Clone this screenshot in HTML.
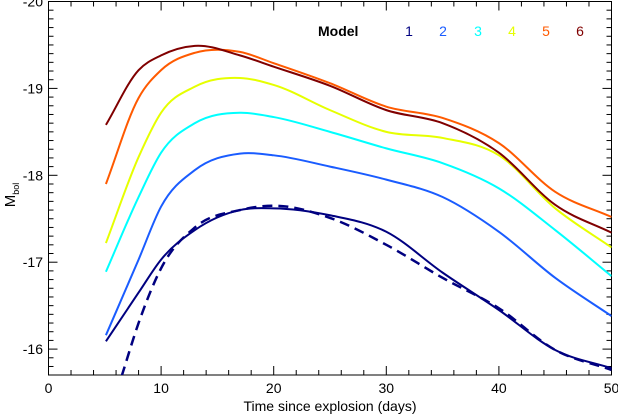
<!DOCTYPE html>
<html><head><meta charset="utf-8"><style>
body{margin:0;background:#fff;}
text{font-family:"Liberation Sans",sans-serif;}
</style></head><body>
<svg id="chart" width="618" height="414" xmlns="http://www.w3.org/2000/svg">
<defs><clipPath id="pc"><rect x="48.5" y="1.5" width="563" height="373.5"/></clipPath></defs>
<g id="axes"></g>
<g id="series" clip-path="url(#pc)"></g>
<text x="330" y="411" font-size="14" text-anchor="middle">Time since explosion (days)</text>
<g transform="translate(15,195) rotate(-90)"><text font-size="15" text-anchor="middle">M<tspan font-size="9" dy="4">bol</tspan></text></g>
<g id="legend">
<text x="318" y="36" font-size="14" font-weight="bold">Model</text>
</g>
</svg>
<script>
const days = [5.1, 8, 10, 13, 17, 20, 25, 30, 35, 40, 45, 50];
const model1 = [-16.09,-16.65,-17.03,-17.37,-17.60,-17.62,-17.54,-17.35,-16.88,-16.45,-15.99,-15.78];
const model2 = [-16.16,-17.03,-17.64,-18.06,-18.25,-18.23,-18.10,-17.95,-17.75,-17.35,-16.82,-16.38];
const model3 = [-16.89,-17.75,-18.26,-18.60,-18.72,-18.67,-18.50,-18.31,-18.14,-17.85,-17.37,-16.84];
const model4 = [-17.22,-18.21,-18.72,-19.02,-19.12,-19.04,-18.75,-18.50,-18.43,-18.23,-17.62,-17.17];
const model5 = [-17.90,-18.89,-19.21,-19.41,-19.42,-19.29,-19.06,-18.79,-18.66,-18.37,-17.81,-17.52];
const model6 = [-18.58,-19.21,-19.38,-19.49,-19.38,-19.25,-19.03,-18.75,-18.60,-18.26,-17.66,-17.34];
const obsDays = [6.5, 8, 10, 13, 17, 20, 25, 30, 35, 40, 45, 50];
const observed = [-15.69,-16.30,-16.93,-17.40,-17.60,-17.65,-17.51,-17.20,-16.82,-16.47,-15.99,-15.76];
const seriesColors = ['#000080','#1a5cff','#00ffff','#e6ff00','#ff5a00','#800000'];
const xTicks = [0,10,20,30,40,50];
const yTicks = [-20,-19,-18,-17,-16];

const NS='http://www.w3.org/2000/svg';
const X0=48.5,X1=611.5,Y0=1.5,Y1=375;
const xs = d => X0 + (d/50)*(X1-X0);
const ys = m => 1.5 + (m+20)*86.9;
function el(tag, attrs, parent){const e=document.createElementNS(NS,tag);for(const k in attrs)e.setAttribute(k,attrs[k]);parent.appendChild(e);return e;}
const axes=document.getElementById('axes');
const frame=el('rect',{x:X0,y:Y0,width:X1-X0,height:Y1-Y0,fill:'none',stroke:'#000','stroke-width':1},axes);


for(let d=0;d<=50;d+=2){const maj=d%10===0;const L=maj?9:5;
 el('line',{x1:xs(d),x2:xs(d),y1:Y1,y2:Y1-L,stroke:'#000'},axes);
 el('line',{x1:xs(d),x2:xs(d),y1:Y0,y2:Y0+L,stroke:'#000'},axes);}
xTicks.forEach(t=>{const tx=el('text',{x:xs(t),y:393,'font-size':14,'text-anchor':'middle'},axes);tx.textContent=t;
 
 });
for(let i=0;i<=43;i++){const m=-20+i*0.1;const y=ys(m);if(y>Y1)break;const maj=i%10===0;const L=maj?9:5;
 el('line',{x1:X0,x2:X0+L,y1:y,y2:y,stroke:'#000'},axes);
 el('line',{x1:X1,x2:X1-L,y1:y,y2:y,stroke:'#000'},axes);}
yTicks.forEach(t=>{const tx=el('text',{x:43,y:ys(t)+5,'font-size':14,'text-anchor':'end'},axes);tx.textContent=t;
 
 });
function smooth(px,py){const n=px.length;const m=[];
 for(let i=0;i<n;i++){
  if(i===0)m.push((py[1]-py[0])/(px[1]-px[0]));
  else if(i===n-1)m.push((py[n-1]-py[n-2])/(px[n-1]-px[n-2]));
  else{const s0=(py[i]-py[i-1])/(px[i]-px[i-1]),s1=(py[i+1]-py[i])/(px[i+1]-px[i]);
   const h0=px[i]-px[i-1],h1=px[i+1]-px[i];m.push((s0*h1+s1*h0)/(h0+h1));}}
 let d='M'+px[0]+','+py[0];
 for(let i=0;i<n-1;i++){const h=(px[i+1]-px[i])/3;
  d+=' C'+(px[i]+h)+','+(py[i]+m[i]*h)+' '+(px[i+1]-h)+','+(py[i+1]-m[i+1]*h)+' '+px[i+1]+','+py[i+1];}
 return d;}
const sg=document.getElementById('series');
const models=[model1,model2,model3,model4,model5,model6];
models.forEach((m,i)=>{const p=el('path',{d:smooth(days.map(xs),m.map(ys)),fill:'none',stroke:seriesColors[i],'stroke-width':2},sg);
 
 });
const ob=el('path',{d:smooth(obsDays.map(xs),observed.map(ys)),fill:'none',stroke:'#000080','stroke-width':2.5,'stroke-dasharray':'10,6'},sg);


const lg=document.getElementById('legend');
const lx=[409,443,478,512,546,580];
seriesColors.forEach((c,i)=>{const t=el('text',{x:lx[i],y:36,'font-size':14,fill:c,'text-anchor':'middle'},lg);t.textContent=i+1;
 
 });
</script>
</body></html>
